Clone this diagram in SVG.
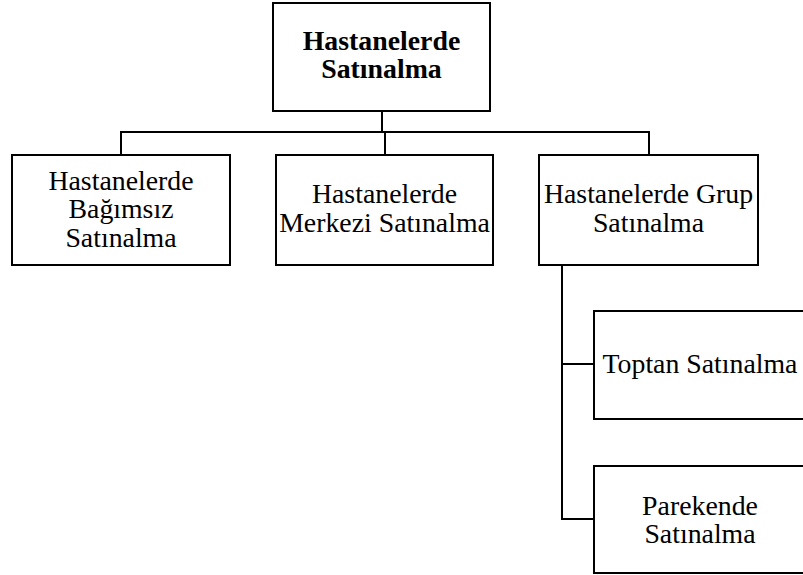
<svg xmlns="http://www.w3.org/2000/svg" width="803" height="575" viewBox="0 0 803 575">
<style>
rect{fill:#fff;stroke:#000;stroke-width:2}
.c{fill:none;stroke:#000;stroke-width:2}
text{font-family:'Liberation Serif','Times New Roman',Tinos,'DejaVu Serif',serif;font-size:27.8px;fill:#000;text-anchor:middle}
.b{font-weight:bold}
</style>
<rect width="803" height="575" style="fill:#fff;stroke:none"/>
<g id="connectors">
<path class="c" d="M382 111V132M121 155V132H649V155M385 132V155"/>
<path class="c" d="M562 265V519H594M562 364H594"/>
</g>
<g id="root">
<rect x="273" y="3" width="217" height="108"/>
<text class="b" x="381.5" y="50">Hastanelerde</text>
<text class="b" x="381.5" y="78">Satınalma</text>
</g>
<g id="bagimsiz">
<rect x="12" y="155" width="218" height="110"/>
<text x="121" y="190">Hastanelerde</text>
<text x="121" y="218">Bağımsız</text>
<text x="121" y="246.5">Satınalma</text>
</g>
<g id="merkezi">
<rect x="276" y="155" width="217" height="110"/>
<text x="384.5" y="203">Hastanelerde</text>
<text x="384.5" y="232">Merkezi Satınalma</text>
</g>
<g id="grup">
<rect x="539" y="155" width="219" height="110"/>
<text x="648.5" y="203">Hastanelerde Grup</text>
<text x="648.5" y="232">Satınalma</text>
</g>
<g id="toptan">
<rect x="594" y="311" width="212" height="108"/>
<text x="700" y="373">Toptan Satınalma</text>
</g>
<g id="parekende">
<rect x="594" y="466" width="212" height="107"/>
<text x="700" y="514.5">Parekende</text>
<text x="700" y="543">Satınalma</text>
</g>
</svg>
